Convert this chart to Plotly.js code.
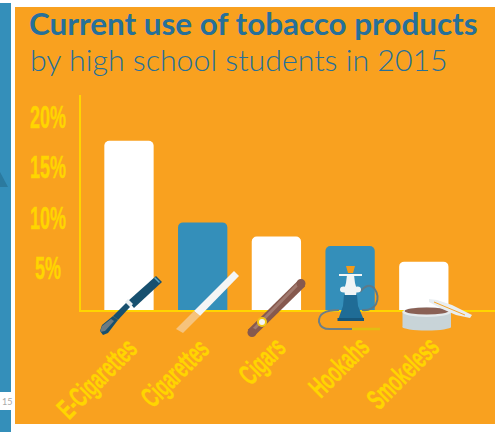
<!DOCTYPE html>
<html>
<head>
<meta charset="utf-8">
<script src="https://cdn.plot.ly/plotly-3.0.1.min.js"></script>
<style>html,body{margin:0;padding:0;background:#fff;overflow:hidden}</style>
</head>
<body>
<div id="chart" style="width:495px;height:432px"></div>
<script>
// Share of high school students currently using each product, 2015 (percent)
const categories = ["E-Cigarettes", "Cigarettes", "Cigars", "Hookahs", "Smokeless"];
const usePercent = [17.6, 9.5, 8.1, 7.15, 5.6];
const tickValues = [5, 10, 15, 20];
const tickLabels = ["5%", "10%", "15%", "20%"];

const ORANGE = "#f9a11f", BLUE = "#348fba", YELLOW = "#ffd500", NAVY = "#26709a";
const barColors = [ "#ffffff", BLUE, "#ffffff", BLUE, "#ffffff" ];

// Plot frame in page pixels
const W = 495, H = 432, L = 81, T = 95, B = 310;
const px = x => (x - L) / (W - L);
const py = y => (B - y) / (B - T);

// Shape helpers: decoration is sketched in page pixels and converted to paper space
const base = { xref: "paper", yref: "paper" };
const rect = (x0, y0, x1, y1, c, layer) => ({ ...base, type: "rect", x0: px(x0), x1: px(x1), y0: py(y0), y1: py(y1), fillcolor: c, line: { width: 0 }, layer: layer || "above" });
const seg = (x0, y0, x1, y1, w, c) => ({ ...base, type: "line", x0: px(x0), x1: px(x1), y0: py(y0), y1: py(y1), line: { color: c, width: w }, layer: "above" });
const disc = (cx, cy, rx, ry, c) => ({ ...base, type: "circle", x0: px(cx - rx), x1: px(cx + rx), y0: py(cy - ry), y1: py(cy + ry), fillcolor: c, line: { width: 0 }, layer: "above" });
const pt = (x, y) => px(x) + "," + py(y);
const poly = (pts, c) => ({ ...base, type: "path", path: "M" + pts.map(p => pt(p[0], p[1])).join("L") + "Z", fillcolor: c, line: { width: 0 }, layer: "above" });
const curve = (d, w, c) => ({ ...base, type: "path", path: d, line: { color: c, width: w }, layer: "above" });

const backdrop = [
  rect(0, 0, 495, 432, "#ffffff", "below"),
  rect(0, 3, 11, 432, BLUE, "below"),
  rect(0, 392, 11, 410, "#ffffff", "below"),
  poly([[0, 172], [8, 187], [0, 187]], "#2b7a9f"),
  rect(15, 7, 495, 424, ORANGE, "below")
];

const eCigarette = [
  poly([[156, 276], [162, 282], [134, 308], [128, 301]], "#17506f"),
  seg(154.5, 277.5, 159.5, 282.5, 1.5, "#5fa6c0"),
  poly([[128, 299], [133, 304], [130, 307], [125, 302]], "#e8eef0"),
  poly([[126, 303], [130, 307], [118, 320], [113, 316]], "#17506f"),
  poly([[113, 316], [118, 320], [108, 333], [103, 335], [100, 331], [102, 325]], "#17506f"),
  poly([[111, 319], [114, 321], [105, 331], [100, 332], [102, 326]], "#6c7b82")
];

const cigarette = [
  poly([[234, 271], [239, 276], [200, 316], [194, 311]], "#f4f5f5"),
  poly([[194, 311], [200, 316], [183, 333], [176, 329]], "#f6c37c")
];

const cigar = [
  seg(302, 283, 251, 333, 9, "#86594e"),
  seg(301, 281, 253, 330, 3, "#a17a6f"),
  disc(301, 283.5, 4.5, 4.5, "#86594e"),
  disc(252, 332.5, 4.5, 4.5, "#86594e"),
  disc(262, 322, 5, 5, "#f2c714"),
  disc(262, 322, 3, 3, "#f4f4f4")
];

const hookah = [
  curve(`M${pt(360, 292)}Q${pt(368, 282)},${pt(374, 288)}Q${pt(380, 296)},${pt(376, 304)}Q${pt(372, 311)},${pt(362, 310)}`, 2, "#5e7a88"),
  curve(`M${pt(339, 310)}Q${pt(318, 310)},${pt(319, 322)}Q${pt(321, 330)},${pt(332, 329)}L${pt(353, 329)}`, 2, "#6d7f86"),
  seg(352, 329, 380, 329, 2.5, "#e2bd12"),
  poly([[344, 295], [357, 295], [358, 306], [364, 320], [338, 320], [343, 306]], "#1f6c96"),
  rect(337.5, 318, 364, 321, "#17577b"),
  poly([[347, 275], [354, 275], [355, 283], [357, 290], [356, 295], [345, 295], [344, 290], [346, 283]], "#f0f4f5"),
  disc(343.5, 289.5, 3.5, 3, "#f0f4f5"),
  disc(357.5, 289.5, 3.5, 3, "#f0f4f5"),
  seg(339, 275, 362, 275, 2, "#f4f6f6"),
  poly([[346, 266], [355, 266], [353, 273], [348, 273]], "#f39a1a")
];

const smokeless = [
  rect(402.5, 311, 451, 327, "#c8d4d8"),
  disc(426.7, 327, 24.3, 3.5, "#c8d4d8"),
  disc(426.7, 312, 24.3, 5, "#e4eaec"),
  disc(426.7, 311, 22, 3.5, "#8a6155"),
  poly([[429, 299], [437, 300], [452, 305], [472, 315], [470, 318], [456, 315], [440, 308], [429, 302]], "#e9eef0"),
  seg(434, 302, 465, 315, 1, "#f6a62b")
];

const bars = {
  type: "bar",
  x: categories,
  y: usePercent,
  width: 0.669,
  marker: { color: barColors, line: { width: 0 } },
  hoverinfo: "x+y"
};

const layout = {
  width: W, height: H,
  margin: { l: L, r: 0, t: T, b: H - B, pad: 0 },
  paper_bgcolor: "#ffffff",
  plot_bgcolor: "rgba(0,0,0,0)",
  showlegend: false,
  barcornerradius: 5,
  title: {
    text: "<b>Current use of tobacco products</b>",
    x: 29 / W, xanchor: "left", xref: "container",
    y: 1 - 13 / H, yanchor: "top",
    font: { family: "Lato", size: 31.4, color: NAVY },
    automargin: false
  },
  xaxis: {
    type: "category",
    range: [-0.651, 4.966],
    showgrid: false, zeroline: false, showline: true,
    linecolor: YELLOW, linewidth: 2, ticks: "",
    tickfont: { family: "Liberation Sans", size: 29, color: YELLOW, weight: 700 },
    tickangle: -45
  },
  yaxis: {
    range: [0.8, 22.15],
    tickmode: "array", tickvals: tickValues, ticktext: tickLabels,
    showgrid: false, zeroline: false, showline: true,
    linecolor: YELLOW, linewidth: 2, ticks: "",
    tickfont: { family: "Liberation Sans", size: 31, color: YELLOW, weight: 700 }
  },
  shapes: [...backdrop, ...eCigarette, ...cigarette, ...cigar, ...hookah, ...smokeless],
  annotations: [
    {
      xref: "paper", yref: "paper", x: px(29), y: py(59), xanchor: "left", yanchor: "middle",
      text: "by high school students in 2015", showarrow: false, borderpad: 0,
      font: { family: "Lato", size: 30.3, color: NAVY, weight: 300 }
    },
    {
      xref: "paper", yref: "paper", x: px(0), y: py(401), xanchor: "left", yanchor: "middle",
      text: "15", showarrow: false, font: { family: "Lato", size: 9, color: "#a9a9a9" }
    }
  ]
};

// Condensed poster lettering: narrow each axis label and set it on its own centre
const SQUEEZE = 0.58;
const xLabelCentres = [[97, 378.5], [175, 373], [262, 361], [339, 367], [403, 373]];
const yLabelCentreX = 48;

Plotly.newPlot("chart", [bars], layout, { displayModeBar: false, responsive: false }).then(gd => {
  const page = gd.getBoundingClientRect();
  const place = (node, cx, cy, angle) => {
    node.setAttribute("text-anchor", "middle");
    node.setAttribute("x", 0);
    node.setAttribute("y", 0);
    node.style.dominantBaseline = "central";
    node.style.stroke = YELLOW;
    node.style.strokeWidth = "0.4px";
    node.setAttribute("transform", `translate(${cx},${cy}) rotate(${angle}) scale(${SQUEEZE},1)`);
  };
  gd.querySelectorAll(".xtick text").forEach((node, i) => {
    place(node, xLabelCentres[i][0], xLabelCentres[i][1], -45);
  });
  gd.querySelectorAll(".ytick text").forEach(node => {
    const r = node.getBoundingClientRect();
    place(node, yLabelCentreX, (r.top + r.bottom) / 2 - page.top, 0);
  });
});
</script>
</body>
</html>
